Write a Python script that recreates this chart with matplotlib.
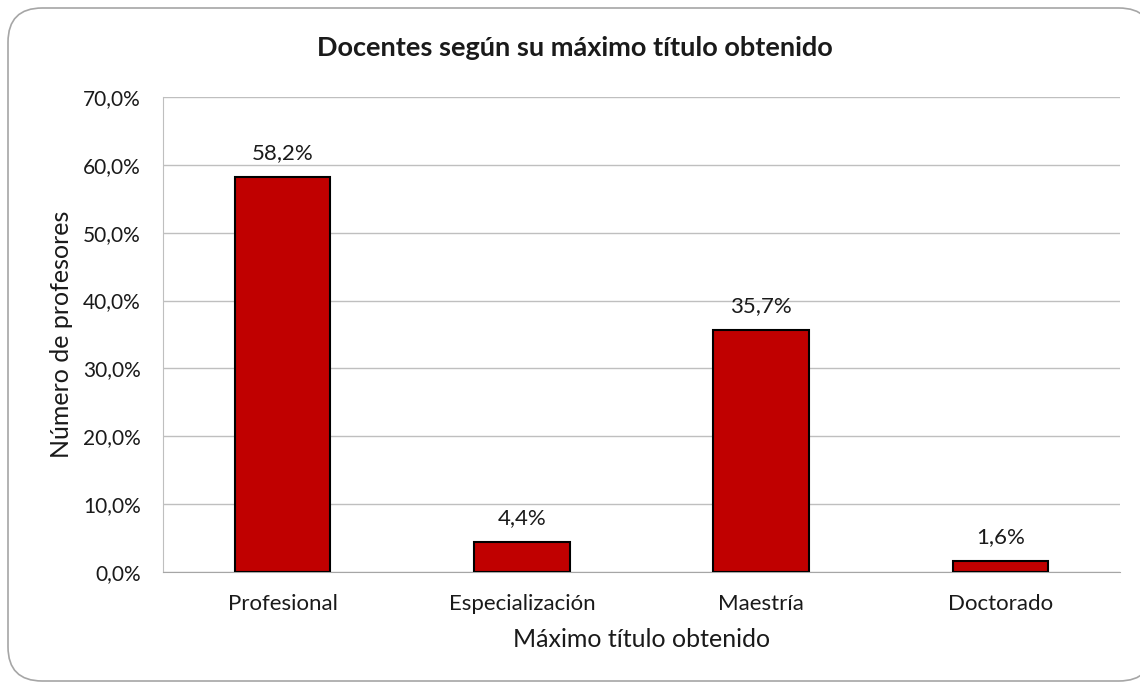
import matplotlib
matplotlib.use("Agg")
import matplotlib.pyplot as plt
from matplotlib.patches import FancyBboxPatch
from matplotlib.ticker import FuncFormatter

# Datos
categorias = ["Profesional", "Especialización", "Maestría", "Doctorado"]
porcentajes = [58.2, 4.4, 35.7, 1.6]
yticks = [0, 10, 20, 30, 40, 50, 60, 70]

plt.rcParams["font.family"] = ["Lato", "DejaVu Sans"]


def fmt_pct(v, pos=None):
    return f"{v:.1f}%".replace(".", ",")


fig = plt.figure(figsize=(11.4, 6.83), dpi=100)

# Borde redondeado del grafico
borde = FancyBboxPatch(
    (8 / 1140, 2 / 683), 1145 / 1140, 673 / 683,
    boxstyle="round,pad=0,rounding_size=0.03",
    transform=fig.transFigure, facecolor="white", edgecolor="#a6a6a6",
    linewidth=1.2, mutation_aspect=1140 / 683, zorder=-5,
)
fig.patches.append(borde)

ax = fig.add_axes([163 / 1140, 1 - 572 / 683, 957 / 1140, 475 / 683])
ax.set_facecolor("none")

x = range(len(categorias))
bars = ax.bar(x, porcentajes, width=0.4, color="#c00000", edgecolor="black",
              linewidth=1.5, zorder=3)

for b, v in zip(bars, porcentajes):
    ax.text(b.get_x() + b.get_width() / 2, v + 2.0, fmt_pct(v),
            ha="center", va="bottom", fontsize=16, color="#1a1a1a")

ax.set_xlim(-0.5, len(categorias) - 0.5)
ax.set_ylim(0, 70)
ax.set_yticks(yticks)
ax.yaxis.set_major_formatter(FuncFormatter(fmt_pct))
ax.set_xticks(list(x))
ax.set_xticklabels(categorias)
ax.tick_params(axis="both", length=0, colors="#1a1a1a")
ax.tick_params(axis="x", pad=16, labelsize=16)
ax.tick_params(axis="y", pad=16, labelsize=15)

ax.grid(axis="y", color="#bfbfbf", linewidth=1, zorder=0)
for s in ["top", "right"]:
    ax.spines[s].set_visible(False)
ax.spines["left"].set_color("#bfbfbf")
ax.spines["bottom"].set_color("#a6a6a6")

ax.set_xlabel("Máximo título obtenido", fontsize=18, color="#1a1a1a", labelpad=10)
ax.set_ylabel("Número de profesores", fontsize=18, color="#1a1a1a", labelpad=7)
fig.text(575 / 1140, 1 - 48 / 683, "Docentes según su máximo título obtenido",
         ha="center", va="center", fontsize=19.5, fontweight="bold", color="#1a1a1a")

fig.savefig("out.png", dpi=100)
